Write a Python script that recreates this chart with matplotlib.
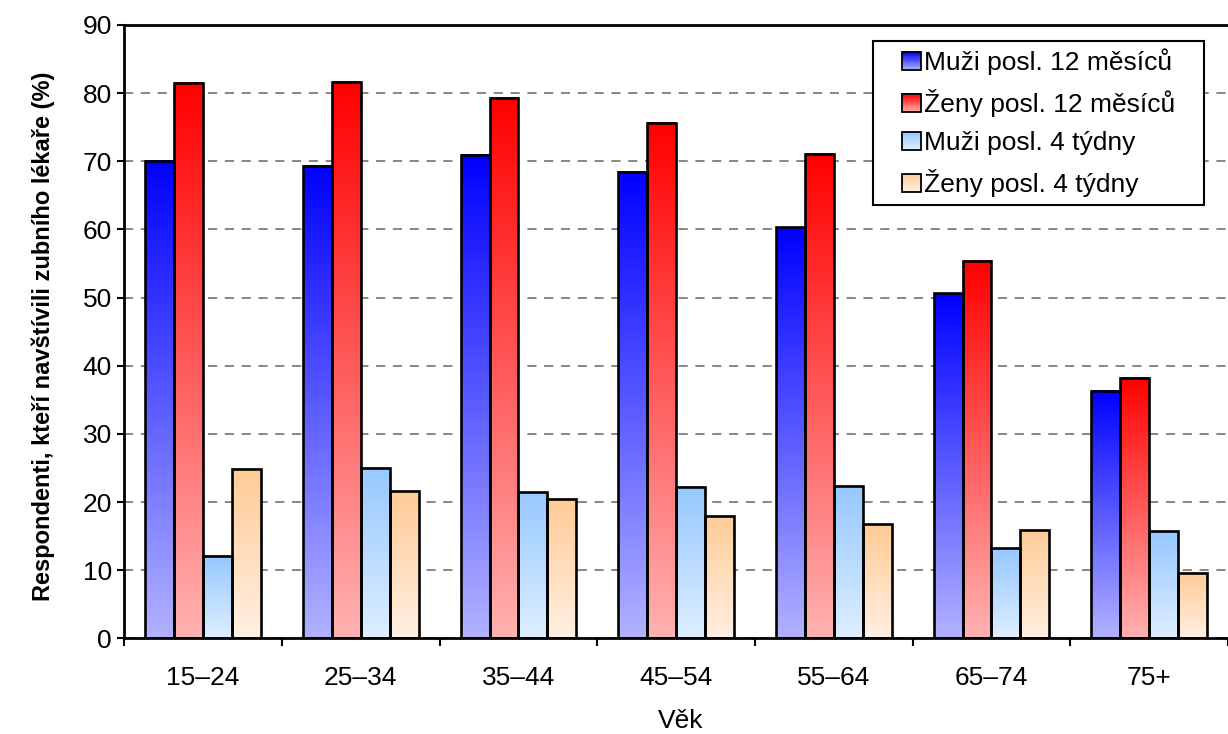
import numpy as np
import matplotlib
matplotlib.use("Agg")
import matplotlib.pyplot as plt
from matplotlib.colors import LinearSegmentedColormap
from matplotlib.patches import Rectangle
from matplotlib.legend_handler import HandlerBase

plt.rcParams['font.family'] = ['Liberation Sans', 'DejaVu Sans']

categories = ["15–24", "25–34", "35–44", "45–54", "55–64", "65–74", "75+"]
series_names = ["Muži posl. 12 měsíců", "Ženy posl. 12 měsíců",
                "Muži posl. 4 týdny", "Ženy posl. 4 týdny"]
muzi_12m = [70.1, 69.3, 70.9, 68.4, 60.3, 50.6, 36.3]
zeny_12m = [81.5, 81.6, 79.3, 75.6, 71.1, 55.4, 38.2]
muzi_4t = [12.1, 25.0, 21.4, 22.2, 22.4, 13.2, 15.7]
zeny_4t = [24.9, 21.6, 20.5, 18.0, 16.7, 15.9, 9.6]
yticks = [0, 10, 20, 30, 40, 50, 60, 70, 80, 90]

# (bottom colour, top colour) of each series' gradient
grad_colors = [("#b2b2ff", "#0000ff"),
               ("#ffb2b2", "#ff0000"),
               ("#deeeff", "#96c8ff"),
               ("#fff0e2", "#ffcb96")]

W, H = 1228, 734
fig = plt.figure(figsize=(W / 100, H / 100), dpi=100)
ax_left, ax_bottom, ax_top = 124.3, 638.3, 25.0
ax = fig.add_axes([ax_left / W, 1 - ax_bottom / H, 1 - ax_left / W, (ax_bottom - ax_top) / H])

cat_px = 158.4
xlim = (-0.5, -0.5 + (W - ax_left) / cat_px)

series = [muzi_12m, zeny_12m, muzi_4t, zeny_4t]
bw = 0.183
x = np.arange(len(categories))
grad = np.linspace(0, 1, 256).reshape(-1, 1)
for i, vals in enumerate(series):
    cmap = LinearSegmentedColormap.from_list(f"g{i}", grad_colors[i])
    bars = ax.bar(x + (i - 1.5) * bw, vals, width=bw, facecolor="none",
                  edgecolor="black", linewidth=1.9, zorder=3)
    for b in bars:
        x0, w, h = b.get_x(), b.get_width(), b.get_height()
        ax.imshow(grad, extent=[x0, x0 + w, 0, h], origin="lower",
                  aspect="auto", cmap=cmap, zorder=2, interpolation="bilinear")

ax.set_xlim(*xlim)
ax.set_ylim(0, 90)
ax.set_yticks(yticks)
ax.set_xticks(x)
ax.set_xticklabels(categories)
ax.set_xticks(np.arange(len(categories) + 1) - 0.5, minor=True)
ax.tick_params(axis="x", which="major", length=0, pad=20, labelsize=19)
ax.tick_params(axis="x", which="minor", length=6, width=1.5, direction="out")
ax.tick_params(axis="y", length=5, width=1.5, direction="out", pad=4, labelsize=19)

ax.yaxis.grid(True, linestyle=(0, (6, 5)), color="#666666", linewidth=1.1)
ax.set_axisbelow(True)
for s in ("left", "bottom", "top"):
    ax.spines[s].set_linewidth(2)
ax.spines["right"].set_visible(False)

fig.text(43 / W, 1 - 336 / H, "Respondenti, kteří navštívili zubního lékaře (%)",
         rotation=90, ha="center", va="center", fontsize=17, fontweight="bold")
fig.text(681 / W, 1 - 721 / H, "Věk", ha="center", va="center", fontsize=19)


class GradHandler(HandlerBase):
    def __init__(self, cols):
        super().__init__()
        self.cols = cols

    def create_artists(self, legend, orig_handle, xdescent, ydescent,
                       width, height, fontsize, trans):
        size = 13.5  # points
        x0 = -xdescent + width - size
        y0 = -ydescent + (height - size) / 2
        cmap = LinearSegmentedColormap.from_list("lg", self.cols)
        n = 24
        arts = []
        for k in range(n):
            arts.append(Rectangle((x0, y0 + size * k / n), size, size / n + 0.2,
                                  facecolor=cmap(k / (n - 1)), edgecolor="none",
                                  transform=trans))
        arts.append(Rectangle((x0, y0), size, size, facecolor="none",
                              edgecolor="black", linewidth=1.3, transform=trans))
        return arts


handles = [Rectangle((0, 0), 1, 1) for _ in series_names]
hmap = {h: GradHandler(grad_colors[i]) for i, h in enumerate(handles)}
leg = ax.legend(handles, series_names, handler_map=hmap, loc="upper left",
                bbox_to_anchor=(873 / W, 1 - 209 / H, 331 / W, 168.3 / H),
                bbox_transform=fig.transFigure, mode="expand",
                fontsize=19, frameon=True, fancybox=False, edgecolor="black",
                framealpha=1, handlelength=1.5, handleheight=0.75,
                handletextpad=0.15, labelspacing=0.53, borderpad=0.3,
                borderaxespad=0)
leg.get_frame().set_linewidth(1.5)

fig.savefig("out.png", dpi=100)
